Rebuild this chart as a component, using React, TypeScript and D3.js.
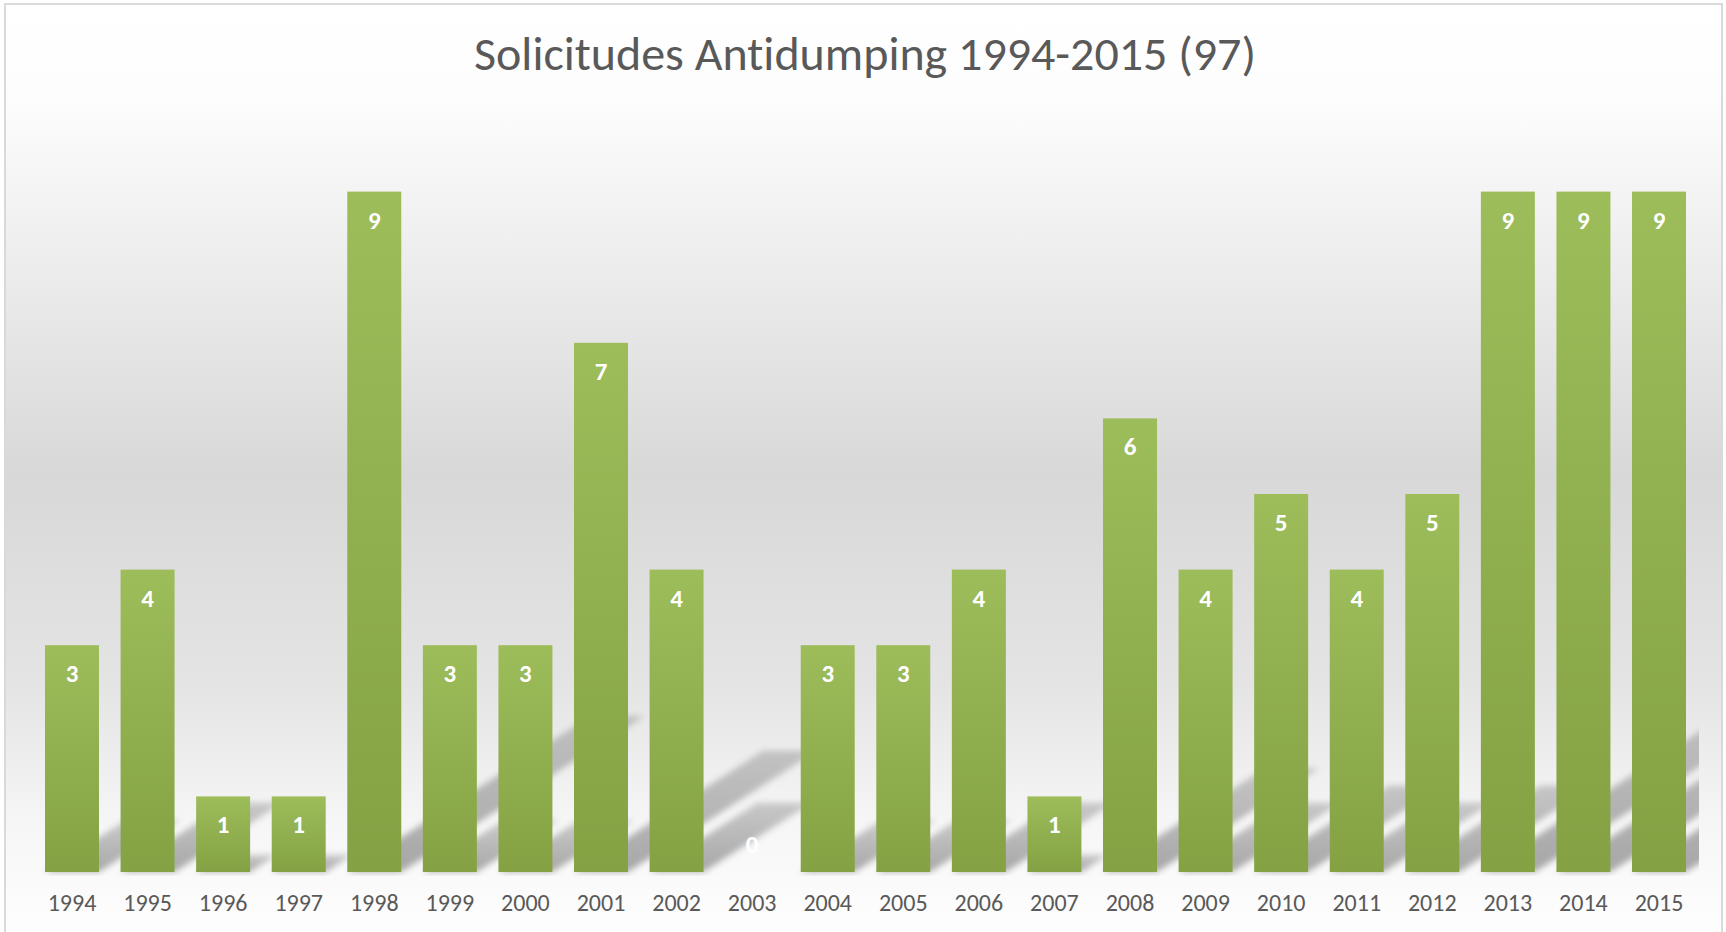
import React from 'react';
import * as d3 from 'd3';

const years = ['1994', '1995', '1996', '1997', '1998', '1999', '2000', '2001', '2002', '2003', '2004',
  '2005', '2006', '2007', '2008', '2009', '2010', '2011', '2012', '2013', '2014', '2015'];
const requests = [3, 4, 1, 1, 9, 3, 3, 7, 4, 0, 3, 3, 4, 1, 6, 4, 5, 4, 5, 9, 9, 9];
const chartTitle = 'Solicitudes Antidumping 1994-2015 (97)';

const W = 1726;
const H = 932;
const base = 872;
const font = "Carlito, 'Open Sans', sans-serif";

export default function App() {
  const x = d3.scaleBand()
    .domain(years)
    .range([45, 1686])
    .paddingInner(0.2857)
    .paddingOuter(0);

  const y = d3.scaleLinear()
    .domain([0, 10])
    .range([base, 116]);

  // perspective shadow, leaning up and right from each bar foot
  const shadow = (d: string, i: number) => {
    const x0 = x(d) as number;
    const x1 = x0 + x.bandwidth();
    const h = base - y(requests[i]);
    const dx = h * 0.357;
    const dy = h * 0.229;
    return `M${x0},${base}L${x1},${base}L${x1 + dx},${base - dy}L${x0 + dx},${base - dy}Z`;
  };

  // label sits inside the bar end, a zero sits just above the axis
  const labelY = (v: number) => Math.min(y(v) + 28, base - 28) + 9;

  return (
    <svg width={W} height={H} style={{ position: 'absolute', left: 0, top: 0, fontVariantLigatures: 'none' }}>
      <defs>
        <linearGradient id="bg" x1="0" y1="0" x2="0" y2="1">
          <stop offset="0" stopColor="#ffffff" />
          <stop offset="0.1" stopColor="#fdfdfd" />
          <stop offset="0.5" stopColor="#d8d8d8" />
          <stop offset="0.72" stopColor="#e4e4e4" />
          <stop offset="0.87" stopColor="#f6f6f6" />
          <stop offset="1" stopColor="#ffffff" />
        </linearGradient>
        <linearGradient id="bar" x1="0" y1="0" x2="0" y2="1">
          <stop offset="0" stopColor="#9dbc5a" />
          <stop offset="1" stopColor="#84a243" />
        </linearGradient>
        <linearGradient id="shade" x1="0" y1="1" x2="0" y2="0">
          <stop offset="0" stopColor="#000" stopOpacity="0.33" />
          <stop offset="1" stopColor="#000" stopOpacity="0.18" />
        </linearGradient>
        <filter id="blur" x="-20%" y="-20%" width="140%" height="140%">
          <feGaussianBlur stdDeviation="3" />
        </filter>
        <clipPath id="plot">
          <rect x={34} y={110} width={1665} height={766} />
        </clipPath>
      </defs>

      <rect x={5} y={4} width={1717} height={H + 10} fill="url(#bg)" stroke="#d9d9d9" strokeWidth={2} />

      <text x={865} y={70} textAnchor="middle" fontFamily={font} fontSize={48} fill="#595959">
        {chartTitle}
      </text>

      <g clipPath="url(#plot)">
        <g filter="url(#blur)">
          {years.map((d, i) => requests[i] > 0 && (
            <path key={d} d={shadow(d, i)} fill="url(#shade)" />
          ))}
        </g>
      </g>

      {years.map((d, i) => (
        <rect key={d} x={x(d)} y={y(requests[i])} width={x.bandwidth()}
          height={base - y(requests[i])} fill="url(#bar)" />
      ))}

      {years.map((d, i) => (
        <text key={d} x={(x(d) as number) + x.bandwidth() / 2} y={labelY(requests[i])}
          textAnchor="middle" fontFamily={font} fontWeight="bold" fontSize={25} fill="#ffffff">
          {requests[i]}
        </text>
      ))}

      {years.map(d => (
        <text key={d} x={(x(d) as number) + x.bandwidth() / 2} y={911}
          textAnchor="middle" fontFamily={font} fontSize={24} fill="#595959">
          {d}
        </text>
      ))}
    </svg>
  );
}
